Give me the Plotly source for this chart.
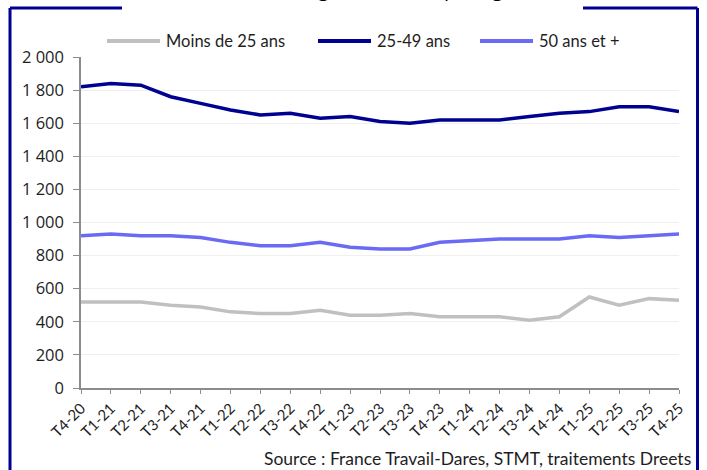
import plotly.graph_objects as go

# Données (milliers de demandeurs d'emploi)
trimestres = [
    "T4-20",
    "T1-21", "T2-21", "T3-21", "T4-21",
    "T1-22", "T2-22", "T3-22", "T4-22",
    "T1-23", "T2-23", "T3-23", "T4-23",
    "T1-24", "T2-24", "T3-24", "T4-24",
    "T1-25", "T2-25", "T3-25", "T4-25",
]
moins_25 = [520, 520, 520, 500, 490, 460, 450, 450, 470, 440, 440,
            450, 430, 430, 430, 410, 430, 550, 500, 540, 530]
ages_25_49 = [1820, 1840, 1830, 1760, 1720, 1680, 1650, 1660, 1630, 1640, 1610,
              1600, 1620, 1620, 1620, 1640, 1660, 1670, 1700, 1700, 1670]
plus_50 = [920, 930, 920, 920, 910, 880, 860, 860, 880, 850, 840,
           840, 880, 890, 900, 900, 900, 920, 910, 920, 930]

W, H = 707, 470
MARGIN = dict(l=81, r=28, t=57, b=82)
NAVY = "#000091"
AXIS_GREY = "#8c8c8c"
TXT = "#1e1e1e"
FONT = "Lato, sans-serif"

# conversion pixels -> coordonnees "paper" (cadre, legende, textes)
PW = W - MARGIN["l"] - MARGIN["r"]
PH = H - MARGIN["t"] - MARGIN["b"]


def px_x(px):
    return (px - MARGIN["l"]) / PW


def px_y(py):
    return (H - MARGIN["b"] - py) / PH


series = [
    ("Moins de 25 ans", moins_25, "#c0c0c0"),
    ("25-49 ans", ages_25_49, NAVY),
    ("50 ans et +", plus_50, "#6a6af4"),
]
legend_x = [107, 318, 480]  # debut de chaque entree de legende (px)

fig = go.Figure()
for (name, vals, color), lx in zip(series, legend_x):
    fig.add_trace(go.Scatter(
        x=trimestres, y=vals, name=name, mode="lines",
        line=dict(color=color, width=3.5),
    ))
    # legende faite a la main : trait plus long que celui de plotly
    fig.add_shape(type="line", xref="paper", yref="paper",
                  x0=px_x(lx), x1=px_x(lx + 53), y0=px_y(41), y1=px_y(41),
                  line=dict(color=color, width=4))
    fig.add_annotation(text=name, xref="paper", yref="paper",
                       x=px_x(lx + 57), y=px_y(41), xanchor="left", yanchor="middle",
                       showarrow=False,
                       font=dict(family=FONT, size=16.5, color=TXT))

# cadre bleu autour du graphique (interrompu en haut pour le titre)
frame = dict(color=NAVY, width=3)
for x0, y0, x1, y1 in [
    (10, 8, 10, 480),
    (10, 8, 122, 8),
    (583, 8, 697.5, 8),
    (697.5, 8, 697.5, 480),
]:
    fig.add_shape(type="line", xref="paper", yref="paper",
                  x0=px_x(x0), y0=px_y(y0), x1=px_x(x1), y1=px_y(y1),
                  line=frame)

fig.add_annotation(
    text="Source : France Travail-Dares, STMT, traitements Dreets",
    xref="paper", yref="paper", x=px_x(693), y=px_y(459),
    xanchor="right", yanchor="middle", showarrow=False,
    font=dict(family=FONT, size=17.5, color=TXT),
)

# titre : seul le bas des lettres depasse en haut de l'image
fig.add_annotation(
    text="DEFM en catégories A, B, C par âge",
    xref="paper", yref="paper", x=px_x(352), y=px_y(4),
    xanchor="center", yanchor="bottom", showarrow=False,
    font=dict(family="Open Sans, sans-serif", size=20, color="black"),
)

fig.update_layout(
    width=W, height=H,
    margin=MARGIN,
    paper_bgcolor="white",
    plot_bgcolor="white",
    separators=", ",
    font=dict(family=FONT, size=13, color=TXT),
    showlegend=False,
    xaxis=dict(
        type="category",
        range=[0, len(trimestres) - 1],
        showgrid=False, automargin=False,
        showline=True, linecolor=AXIS_GREY, linewidth=1.5,
        ticks="outside", ticklen=4, tickcolor=AXIS_GREY,
        tickangle=-45,
        tickfont=dict(family=FONT, size=15, color=TXT),
    ),
    yaxis=dict(
        range=[0, 2000], dtick=200, tickformat=",d",
        showgrid=True, gridcolor="#efefef", gridwidth=1,
        zeroline=False, automargin=False,
        showline=True, linecolor=AXIS_GREY, linewidth=1.5,
        ticks="outside", ticklen=6, tickcolor=AXIS_GREY,
        ticklabelstandoff=6,
        tickfont=dict(family="Open Sans, sans-serif", size=16.5, color=TXT),
    ),
    # axes fantomes pour avoir des graduations qui traversent les axes
    xaxis2=dict(
        overlaying="x", matches="x", anchor="y", side="bottom",
        type="category", showgrid=False, showline=False, showticklabels=False,
        ticks="inside", ticklen=4, tickcolor=AXIS_GREY,
    ),
    yaxis2=dict(
        overlaying="y", matches="y", anchor="x", side="left",
        showgrid=False, showline=False, showticklabels=False, zeroline=False,
        dtick=200, ticks="inside", ticklen=5, tickcolor=AXIS_GREY,
    ),
)

fig.write_html("out.html", config={"displayModeBar": False},
               post_script="document.body.style.margin = '0';")
